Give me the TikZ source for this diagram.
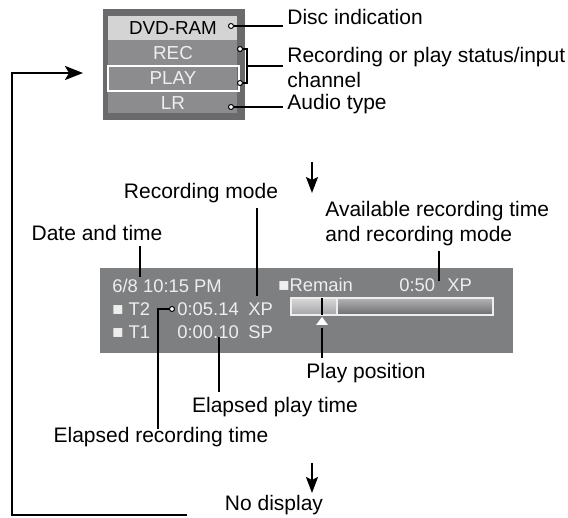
\documentclass[tikz,border=0pt]{standalone}
\usepackage{fontspec}
\setmainfont{Liberation Sans}
\usetikzlibrary{arrows.meta, positioning, calc}
\definecolor{framegray}{HTML}{6A6A6C}
\definecolor{rowgray}{HTML}{8C8C8E}
\definecolor{rowlight}{HTML}{D4D4D4}
\definecolor{panelgray}{HTML}{7E7F81}
\definecolor{osdtext}{HTML}{EEEEEE}
\definecolor{barhigh}{HTML}{D8D8D8}
\definecolor{barlow}{HTML}{A4A4A6}
\definecolor{trackhigh}{HTML}{B4B4B6}
\definecolor{tracklow}{HTML}{6C6C6E}
\tikzset{
    callout/.style={font=\fontsize{10.5}{12.5}\selectfont, inner xsep=2pt, inner ysep=2.5pt, align=left},
    osd/.style={font=\fontsize{9.2}{11}\selectfont, text=osdtext, inner sep=0pt, anchor=base west},
    rowtext/.style={font=\fontsize{9.4}{11}\selectfont, inner sep=0pt},
    leader/.style={line width=1pt},
    blob/.tip={Circle[open, fill=white, length=3pt, width=3pt, line width=0.5pt]},
    % small white blob where a leader touches the screen
    tipped/.style={leader, blob-},
    flow/.style={line width=1.2pt, -{Stealth[length=9pt, width=7pt, inset=2pt]}},
    nextarrow/.style={line width=1pt, -{Stealth[length=8pt, width=6pt, inset=1.5pt]}},
}
\begin{document}
\begin{tikzpicture}[x=0.5pt, y=-0.5pt]
    \useasboundingbox (0,0) rectangle (568,518);

    % top screen
    \fill[framegray] (103,9) rectangle (245,120);
    \fill[rowlight] (108,16) rectangle (237,40);
    \fill[rowgray] (108,40) rectangle (237,113);
    \draw[white, line width=1pt] (108,66) rectangle (239,91);
    \node[rowtext] (dvd) at (173,28) {DVD-RAM};
    \node[rowtext, text=osdtext] (rec) at (173,53) {REC};
    \node[rowtext, text=osdtext] (play) at (173,78) {PLAY};
    \node[rowtext, text=osdtext] (lr) at (173,103) {LR};

    \coordinate (dvdtip) at (228,26);
    \coordinate (rectip) at (237,49);
    \coordinate (playtip) at (237,83);
    \coordinate (lrtip) at (228,107);
    \coordinate (bracket) at (247,66);

    \node[callout, anchor=west] (disc) at (283,17) {Disc indication};
    \node[callout, anchor=north west] (status) at (283,41.5) {Recording or play status/input\\channel};
    \node[callout, anchor=west] (audio) at (283,104) {Audio type};

    \draw[tipped] (dvdtip) -- (dvdtip -| disc.west);
    \draw[tipped] (lrtip) -- (lrtip -| audio.west);
    \draw[leader, blob-blob] (rectip) -- (rectip -| bracket) -- (playtip -| bracket) -- (playtip);
    \draw[leader] (bracket) -- (bracket -| status.west);

    \coordinate (down1top) at (312,162);
    \coordinate (down1tip) at (312,193);
    \draw[nextarrow] (down1top) -- (down1tip);

    % second screen
    \fill[panelgray] (100,268) rectangle (513,353);
    \node[osd] (clock) at (112,293) {6/8 10:15 PM};
    \node[osd] (t2) at (112,316) {■ T2};
    \node[osd] (t2time) at (177,316) {0:05.14};
    \node[osd] (t2mode) at (248,316) {XP};
    \node[osd] (t1) at (112,339) {■ T1};
    \node[osd] (t1time) at (177,339) {0:00.10};
    \node[osd] (t1mode) at (248,339) {SP};
    \node[osd] (remain) at (278,292) {■Remain};
    \node[osd] (remaintime) at (399,292) {0:50};
    \node[osd] (remainmode) at (447,292) {XP};

    \shade[top color=trackhigh, bottom color=tracklow] (291,298) rectangle (493,315);
    \shade[top color=barhigh, bottom color=barlow] (291,298) rectangle (337,315);
    \draw[osdtext, line width=0.6pt] (291,298) rectangle (493,315);
    \draw[osdtext, line width=0.6pt] (337,298) -- (337,315);
    \draw[black, line width=0.6pt] (322,298) -- (322,315);
    \fill[white] (316,325) -- (328,325) -- (322,317) -- cycle;

    \coordinate (clocktip) at (140,277);
    \coordinate (xptip) at (257,296);
    \coordinate (remaintip) at (439,281);
    \coordinate (marker) at (322,328);
    \coordinate (t1tip) at (219,337);
    \coordinate (t2tip) at (175,309);
    \coordinate (rectimebend) at (158,309);
    \coordinate (rectimeend) at (158,429);

    \node[callout] (datetime) at (97,233) {Date and time};
    \node[callout] (recmode) at (201,193) {Recording mode};
    \node[callout, anchor=north west] (available) at (321,195.5) {Available recording time\\and recording mode};
    \node[callout] (playpos) at (366,373) {Play position};
    \node[callout] (playtime) at (275,407) {Elapsed play time};
    \node[callout] (rectime) at (161,437) {Elapsed recording time};

    \draw[leader] (clocktip) -- (clocktip |- datetime.south);
    \draw[leader] (xptip) -- (xptip |- recmode.south);
    \draw[leader] (remaintip) -- (remaintip |- available.south);
    \draw[leader] (marker) -- (marker |- playpos.north);
    \draw[leader] (t1tip) -- (t1tip |- playtime.north);
    \draw[tipped] (t2tip) -- (rectimebend) -- (rectimeend);

    \coordinate (down2top) at (312,463);
    \coordinate (down2tip) at (312,493);
    \draw[nextarrow] (down2top) -- (down2tip);
    \node[callout] (nodisplay) at (274,505) {No display};

    % loop back to the first screen
    \coordinate (loopstart) at (187,515);
    \coordinate (loopin) at (83,73);
    \draw[flow] (loopstart) -- ++(-175,0) |- (loopin);
\end{tikzpicture}
\end{document}
